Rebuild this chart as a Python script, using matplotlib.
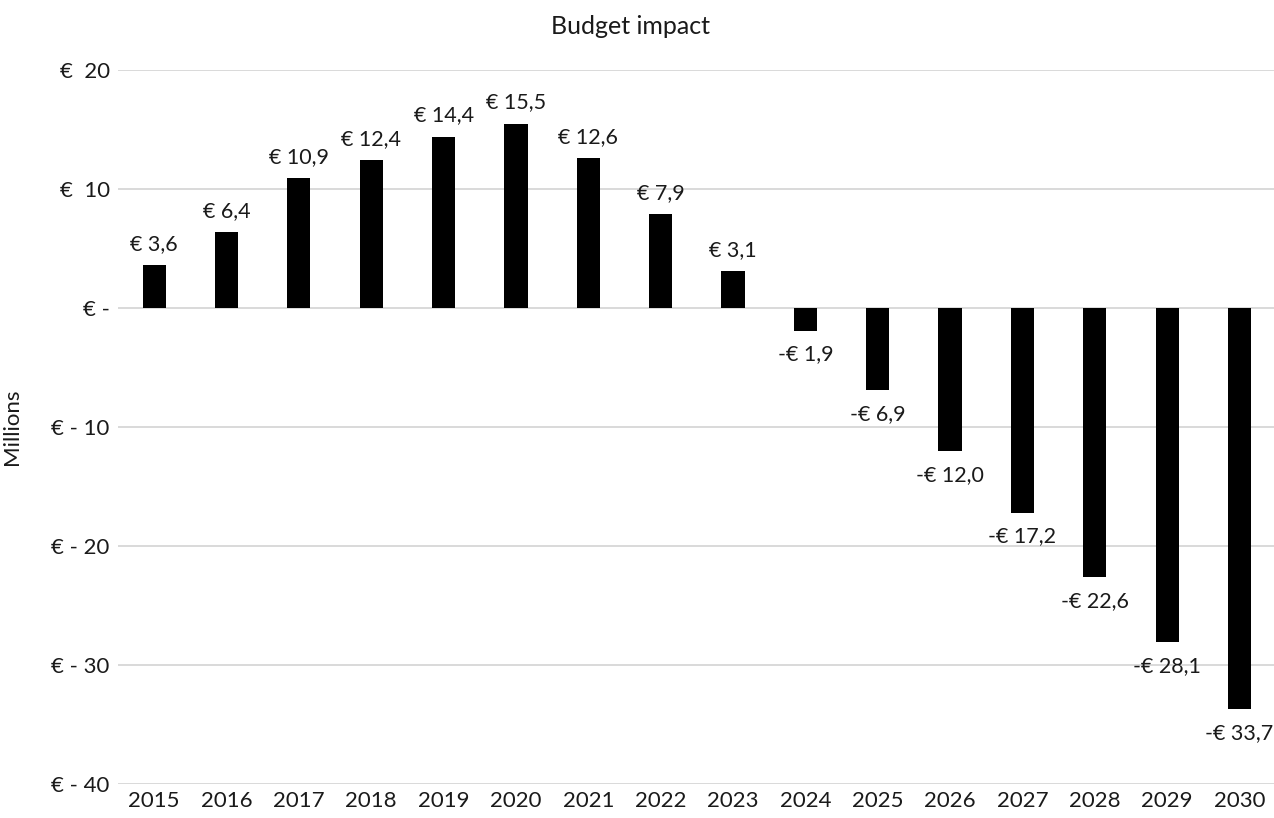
import matplotlib.pyplot as plt
import numpy as np

plt.rcParams['font.family'] = ['Lato', 'DejaVu Sans']

years = [str(y) for y in range(2015, 2031)]
impact = [3.6, 6.4, 10.9, 12.4, 14.4, 15.5, 12.6, 7.9, 3.1,
          -1.9, -6.9, -12.0, -17.2, -22.6, -28.1, -33.7]
yticks = [20, 10, 0, -10, -20, -30, -40]
ytick_labels = ['€  20', '€  10', '€ -', '€ - 10', '€ - 20', '€ - 30', '€ - 40']


def euro(v):
    s = f'{abs(v):.1f}'.replace('.', ',')
    return f'-€ {s}' if v < 0 else f'€ {s}'


fig = plt.figure(figsize=(12.74, 8.18), dpi=100)
ax = fig.add_axes([0.0926, 0.0416, 0.9087, 0.8728])

x = np.arange(len(years))
ax.bar(x, impact, width=0.32, color='black', zorder=3)

for xi, v in zip(x, impact):
    if v >= 0:
        ax.annotate(euro(v), (xi, v), xytext=(0, 8), textcoords='offset points',
                    ha='center', va='bottom', fontsize=15.5, color='#1a1a1a')
    else:
        ax.annotate(euro(v), (xi, v), xytext=(0, -10), textcoords='offset points',
                    ha='center', va='top', fontsize=15.5, color='#1a1a1a')

ax.set_xlim(-0.5, len(years) - 0.5)
ax.set_ylim(-40, 20)
ax.set_yticks(yticks)
ax.set_yticklabels(ytick_labels)
ax.set_xticks(x)
ax.set_xticklabels(years)
ax.tick_params(length=0, labelsize=16, colors='#1a1a1a')
ax.tick_params(axis='y', pad=6)
ax.tick_params(axis='x', pad=5)

ax.grid(axis='y', color='#d9d9d9', linewidth=1.4, zorder=0)
for s in ax.spines.values():
    s.set_visible(False)

ax.set_ylabel('Millions', fontsize=16, color='#1a1a1a')
ax.yaxis.set_label_coords(-0.083, 0.5)
fig.text(0.495, 0.967, 'Budget impact', fontsize=18, color='#1a1a1a',
         ha='center', va='center')

fig.savefig('out.png', dpi=100)
